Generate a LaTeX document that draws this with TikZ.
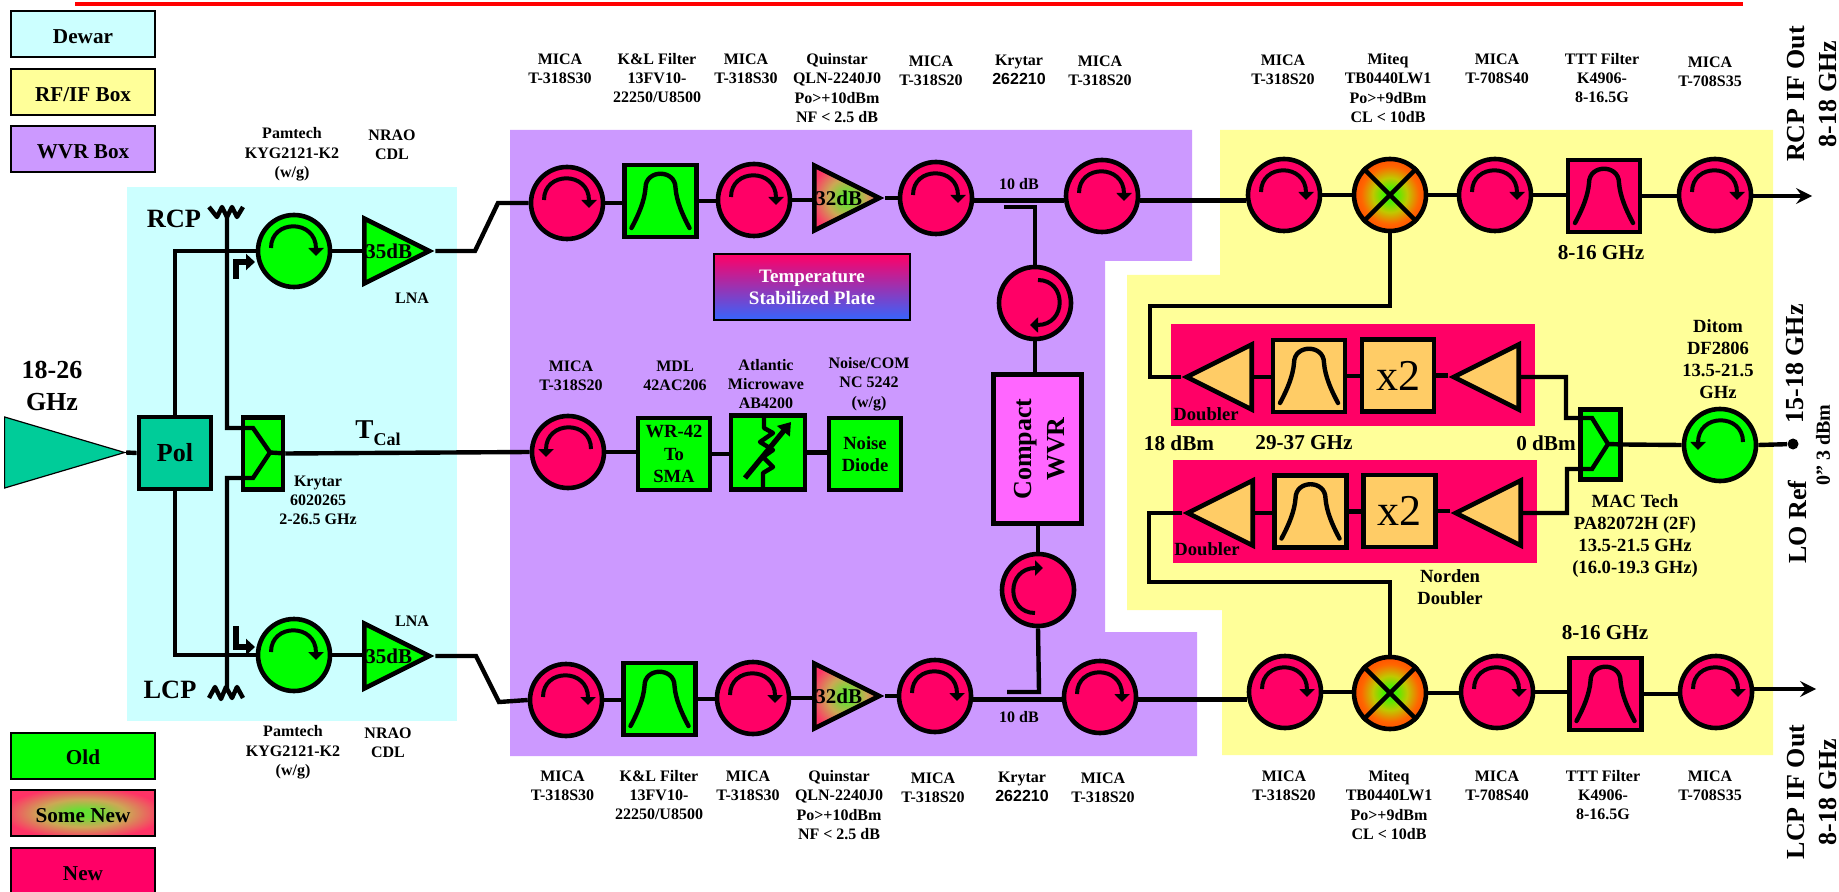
\documentclass[tikz,border=0pt]{standalone}
\usepackage{fontspec}
\setmainfont{Liberation Serif}
\newfontfamily\labsans{Liberation Sans}
\usetikzlibrary{arrows.meta,calc,shapes.geometric}
\definecolor{csnew}{HTML}{FF0066}
\definecolor{csold}{HTML}{00FF00}
\definecolor{csdewar}{HTML}{CCFFFF}
\definecolor{csrfif}{HTML}{FFFF99}
\definecolor{cswvr}{HTML}{CC99FF}
\definecolor{cspol}{HTML}{00CC99}
\definecolor{csdbl}{HTML}{FFCC66}
\definecolor{cscomp}{HTML}{FF66FF}
\definecolor{csplate}{HTML}{3366FF}
\definecolor{cssome}{HTML}{66E033}
\definecolor{cssmid}{HTML}{CCA855}
\definecolor{csedge}{HTML}{FF3366}
\definecolor{csmixin}{HTML}{44F000}
\definecolor{csmixmid}{HTML}{C0C800}
\definecolor{csmixorg}{HTML}{FF6600}
\definecolor{csmixout}{HTML}{FF3300}
\pgfdeclareradialshading{somesh}{\pgfpointorigin}{color(0bp)=(cssome); color(4bp)=(cssome); color(15bp)=(cssmid); color(28bp)=(csedge); color(100bp)=(csedge)}
\pgfdeclareradialshading{mixsh}{\pgfpointorigin}{color(0bp)=(csmixin); color(4bp)=(csmixin); color(12bp)=(csmixmid); color(20bp)=(csmixorg); color(32bp)=(csmixout); color(100bp)=(csmixout)}
\tikzset{
  wire/.style={line width=2.2pt, black},
  lab/.style={font=\fontsize{8}{9.65}\selectfont\bfseries, align=center, inner sep=0pt},
  labm/.style={font=\fontsize{9.3}{11}\selectfont\bfseries, align=center, inner sep=0pt},
  labl/.style={font=\fontsize{10.6}{13}\selectfont\bfseries, align=center, inner sep=0pt},
  labh/.style={font=\fontsize{13}{16.2}\selectfont\bfseries, align=center, inner sep=0pt},
  legbox/.style={draw=black, line width=1pt, minimum width=72pt, minimum height=23pt, inner sep=0pt, text height=9pt, text depth=0pt, font=\fontsize{10.6}{13}\selectfont\bfseries},
  circ/.style={circle, draw=black, line width=2.3pt, minimum size=36pt, inner sep=0pt},
  newcirc/.style={circ, fill=csnew},
  oldcirc/.style={circ, fill=csold},
  mixcirc/.style={circ, shade, shading=mixsh},
  fbox/.style={rectangle, draw=black, line width=2.4pt, minimum size=36pt, inner sep=0pt, align=center},
  amp/.style={isosceles triangle, isosceles triangle stretches, draw=black, line width=2.3pt, minimum width=32.5pt, minimum height=32.5pt, inner sep=0pt, anchor=lower side, font=\fontsize{10.5}{12}\selectfont\bfseries},
  armt/.style={line width=3pt, -{Triangle[width=8pt,length=4.5pt]}},
  outarr/.style={wire, -{Stealth[width=8pt,length=8pt,inset=3pt]}},
  pics/cwarr/.style={code={
    \draw[line width=2pt, -{Triangle[width=7.5pt,length=4pt]}] (-23,-3) .. controls (-23,-32) and (22,-32) .. (22,5);
  }},
  pics/bpass/.style={code={
    \draw[line width=2.2pt, line cap=round] (-29,27) .. controls (-22,14) and (-16,0) .. (-15,-13) .. controls (-15,-32) and (15,-32) .. (15,-13) .. controls (16,0) and (22,14) .. (29,27);
  }},
}
\begin{document}
\begin{tikzpicture}[x=0.5pt, y=-0.5pt]
  \useasboundingbox (0,0) rectangle (1839,892);
  \draw[red, line width=1.6pt] (75,4) -- (1743,4);
  \fill[csdewar] (127,187) rectangle (457,721);
  \fill[cswvr] (510,130) -- (1192,130) -- (1192,261) -- (1105,261) -- (1105,632) -- (1197,632) -- (1197,756) -- (510,756) -- cycle;
  \fill[csrfif] (1220,130) -- (1773,130) -- (1773,755) -- (1222,755) -- (1222,610) -- (1127,610) -- (1127,275) -- (1220,275) -- cycle;
  \fill[csnew] (1171,324) rectangle (1535,426);
  \fill[csnew] (1173,460) rectangle (1537,563);

  \node[legbox, fill=csdewar] (lgd) at (83,34.5) {Dewar};
  \node[legbox, fill=csrfif] (lgr) at (83,92.5) {RF/IF Box};
  \node[legbox, fill=cswvr] (lgw) at (83,149.5) {WVR Box};
  \node[legbox, fill=csold] (lgo) at (83,755.5) {Old};
  \node[legbox, shade, shading=somesh] (lgs) at (83,813) {Some New};
  \node[legbox, fill=csnew] (lgn) at (83,871) {New};

  \node[isosceles triangle, isosceles triangle stretches, draw=black, line width=0.6pt, fill=cspol, minimum width=35.5pt, minimum height=60pt, inner sep=0pt, anchor=lower side] (horn) at (4,452.5) {};
  \node[fbox, fill=cspol, font=\fontsize{13}{16}\selectfont\bfseries] (pol) at (175,453) {Pol};
  \node[fbox, fill=csold, minimum width=20pt, minimum height=36pt] (kry) at (263,453.5) {};
  \node[oldcirc] (cl1) at (294,251) {};
  \node[oldcirc] (cl2) at (294,655) {};
  \node[amp, fill=csold] (al1) at (362,251) {35dB};
  \node[amp, fill=csold] (al2) at (362,656) {35dB};
  \pic at (cl1) {cwarr};
  \pic at (cl2) {cwarr};

  \node[newcirc] (cr1) at (567,203) {};
  \node[fbox, fill=csold] (fr1) at (660.5,201) {};
  \node[newcirc] (cr2) at (754,200) {};
  \node[amp, shade, shading=somesh] (ar1) at (812,198) {32dB};
  \node[newcirc] (cr3) at (936,198) {};
  \node[newcirc] (cr4) at (1102,196) {};
  \node[newcirc] (cr5) at (1284,195) {};
  \node[mixcirc] (mxr) at (1390,195) {};
  \node[newcirc] (cr6) at (1495,195) {};
  \node[fbox, fill=csnew] (fr2) at (1604,196) {};
  \node[newcirc] (cr7) at (1715,195) {};
  \foreach \c in {cr1,cr2,cr3,cr4,cr5,cr6,cr7} \pic at (\c) {cwarr};
  \pic at (fr1) {bpass};
  \pic at (fr2) {bpass};
  \draw[wire] (mxr.north west) -- (mxr.south east);
  \draw[wire] (mxr.north east) -- (mxr.south west);

  \node[newcirc] (cb1) at (566,700) {};
  \node[fbox, fill=csold] (fb1) at (659.5,699) {};
  \node[newcirc] (cb2) at (753,698) {};
  \node[amp, shade, shading=somesh] (ab1) at (812,696) {32dB};
  \node[newcirc] (cb3) at (935,696) {};
  \node[newcirc] (cb4) at (1100,697) {};
  \node[newcirc] (cb5) at (1285,692) {};
  \node[mixcirc] (mxb) at (1390,693) {};
  \node[newcirc] (cb6) at (1497,692) {};
  \node[fbox, fill=csnew] (fb2) at (1605.5,694) {};
  \node[newcirc] (cb7) at (1716,692) {};
  \foreach \c in {cb1,cb2,cb3,cb4,cb5,cb6,cb7} \pic at (\c) {cwarr};
  \pic at (fb1) {bpass};
  \pic at (fb2) {bpass};
  \draw[wire] (mxb.north west) -- (mxb.south east);
  \draw[wire] (mxb.north east) -- (mxb.south west);

  \node[newcirc] (cm) at (568,452) {};
  \pic[xscale=-1] at (cm) {cwarr};
  \node[fbox, fill=csold, font=\fontsize{9.3}{11.2}\selectfont\bfseries] (wr) at (674,454) {WR-42\\To\\SMA};
  \node[fbox, fill=csold, minimum size=37pt] (atn) at (768,452.5) {};
  \node[fbox, fill=csold, font=\fontsize{9.3}{11}\selectfont\bfseries] (nd) at (865,454) {Noise\\Diode};
  \draw[wire, line join=round] (764,415) -- (764,428) -- (773,433) -- (760,442) -- (773,450) -- (763,457) -- (773,467) -- (763,473) -- (763,491);
  \draw[line width=2.6pt, -{Triangle[width=8pt,length=6pt]}] (745,478) -- (791,422);

  \node[newcirc] (cv1) at (1035,303) {};
  \pic[rotate=-90] at (cv1) {cwarr};
  \node[newcirc] (cv2) at (1038,590) {};
  \pic[rotate=90] at (cv2) {cwarr};
  \node[fbox, fill=cscomp, minimum width=44pt, minimum height=74.5pt] (wvr) at (1037.5,449) {};
  \node[labh, rotate=90, font=\fontsize{13}{16.5}\selectfont\bfseries] (wvrt) at (1040,449) {Compact\\WVR};
  \node[rectangle, draw=black, line width=1pt, top color=csnew, bottom color=csplate, minimum width=98pt, minimum height=33pt, inner sep=0pt, align=center, text=white, font=\fontsize{9.5}{11}\selectfont\bfseries] (plate) at (812,287.5) {Temperature\\Stabilized Plate};

  \node[amp, shape border rotate=180, fill=csdbl] (adu1) at (1254,377) {};
  \node[fbox, fill=csdbl] (fdu) at (1309,376) {};
  \node[fbox, fill=csdbl, font=\fontsize{22}{24}\selectfont] (xdu) at (1398,375.5) {x2};
  \node[amp, shape border rotate=180, fill=csdbl] (adu2) at (1521,377) {};
  \node[amp, shape border rotate=180, fill=csdbl] (adl1) at (1255,513) {};
  \node[fbox, fill=csdbl] (fdl) at (1310.5,511.5) {};
  \node[fbox, fill=csdbl, font=\fontsize{22}{24}\selectfont] (xdl) at (1399.5,511) {x2};
  \node[amp, shape border rotate=180, fill=csdbl] (adl2) at (1523,513) {};
  \pic at (fdu) {bpass};
  \pic at (fdl) {bpass};
  \node[fbox, fill=csold, minimum width=20pt, minimum height=35pt] (spl) at (1600.5,444.5) {};
  \node[oldcirc] (dit) at (1720,445) {};
  \pic[xscale=-1] at (dit) {cwarr};
  \node[circle, fill=black, minimum size=5.5pt, inner sep=0pt] (lodot) at (1793,444) {};

  \coordinate (anr) at (227,216);
  \coordinate (anl) at (227,688);
  \coordinate (kin1) at (253,428);
  \coordinate (kin2) at (253,478);
  \coordinate (kmid) at (270,452.5);
  \coordinate (jog1) at (475,251);
  \coordinate (jog2) at (498,203);
  \coordinate (jog3) at (476,656);
  \coordinate (jog4) at (499,702);
  \coordinate (tapr) at (1036,200.5);
  \coordinate (tapb) at (1039,699.5);
  \coordinate (stu1) at (1004,207);
  \coordinate (stu2) at (1035,207);
  \coordinate (stu3) at (1007,692);
  \coordinate (stu4) at (1039,692);
  \coordinate (dc1) at (1150,306);
  \coordinate (dc2) at (1149,582);
  \coordinate (sp1o) at (1566,418);
  \coordinate (sp1) at (1592,418);
  \coordinate (sp2o) at (1567,469);
  \coordinate (sp2) at (1592,469);
  \coordinate (spm) at (1608,444);
  \coordinate (outr) at (1812,196);
  \coordinate (outb) at (1816,689);

  \draw[wire] (horn.apex) -- (pol.west);
  \draw[wire] (pol.north) |- (cl1.west);
  \draw[wire] (pol.south) |- (cl2.west);
  \draw[wire] (anr) |- (kin1) -- (kmid) -- (kin2) -| (anl);
  \draw[wire] (kmid) -- (kry.east);
  \draw[wire] (kry.east) -- (cm.west);
  \draw[wire, line join=round] (209,207) -- (217,217) -- (222,207) -- (227,217) -- (232,207) -- (237,217) -- (243,207);
  \draw[wire, line join=round] (209,698) -- (215,687) -- (221,699) -- (226,687) -- (232,698) -- (237,687) -- (243,698);
  \draw[armt] (236,279) |- (255,262);
  \draw[armt] (236,626) |- (255,647);
  \draw[wire] (al1.apex) -- (jog1) -- (jog2) -- (cr1.west);
  \draw[wire] (al2.apex) -- (jog3) -- (jog4) -- (cb1.west);
  \foreach \a/\b in {cl1.east/al1.lower side, cl2.east/al2.lower side,
      cr1.east/fr1.west, fr1.east/cr2.west, cr2.east/ar1.lower side, ar1.apex/cr3.west,
      cr5.east/mxr.west, mxr.east/cr6.west, cr6.east/fr2.west, fr2.east/cr7.west,
      cb1.east/fb1.west, fb1.east/cb2.west, cb2.east/ab1.lower side, ab1.apex/cb3.west,
      cb5.east/mxb.west, mxb.east/cb6.west, cb6.east/fb2.west, fb2.east/cb7.west,
      cm.east/wr.west, wr.east/atn.west, atn.east/nd.west,
      adu1.lower side/fdu.west, fdu.east/xdu.west, xdu.east/adu2.apex,
      adl1.lower side/fdl.west, fdl.east/xdl.west, xdl.east/adl2.apex}
    \draw[wire] (\a) -- (\a -| \b);
  \draw[wire] (cr3.east |- tapr) -- (cr4.west |- tapr);
  \draw[wire] (cr4.east |- tapr) -- (cr5.west |- tapr);
  \draw[wire] (cb3.east |- tapb) -- (cb4.west |- tapb);
  \draw[wire] (cb4.east |- tapb) -- (cb5.west |- tapb);
  \draw[wire] (stu1) -- (stu2) -- (cv1.north);
  \draw[wire] (stu3) -- (stu4) -- (cv2.south);
  \draw[wire] (cv1.south) -- (cv1.south |- wvr.north);
  \draw[wire] (cv2.north |- wvr.south) -- (cv2.north);
  \draw[wire] (mxr.south) |- (dc1) |- (adu1.apex);
  \draw[wire] (mxb.north) |- (dc2) |- (adl1.apex);
  \draw[wire] (adu2.lower side) -| (sp1o) -- (sp1) -- (spm) -- (sp2) -- (sp2o) |- (adl2.lower side);
  \draw[wire] (spm) -- (spl.east);
  \draw[wire] (spl.east) -- (dit.west);
  \draw[wire] (dit.east) -- (lodot);
  \draw[outarr] (cr7.east |- outr) -- (outr);
  \draw[outarr] (cb7.east |- outb) -- (outb);

  \node[labh] (in) at (52,386) {18-26\\GHz};
  \node[font=\fontsize{13.2}{16}\selectfont\bfseries, inner sep=0pt] (rcp) at (174,219) {RCP};
  \node[font=\fontsize{13.2}{16}\selectfont\bfseries, inner sep=0pt] (lcp) at (170,690) {LCP};
  \node[font=\fontsize{13.6}{16}\selectfont\bfseries, inner sep=0pt] (tcal) at (378,433) {T\raisebox{-3.5pt}{\fontsize{9}{9}\selectfont Cal}};
  \node[lab] (t1) at (292,154.5) {Pamtech\\KYG2121-K2\\(w/g)};
  \node[lab] (t2) at (392,145) {NRAO\\CDL};
  \node[lab] (t3) at (412,298) {LNA};
  \node[lab] (t4) at (318,500.5) {Krytar\\6020265\\2-26.5 GHz};
  \node[lab] (t5) at (412,621) {LNA};
  \node[lab] (t6) at (293,752.5) {Pamtech\\KYG2121-K2\\(w/g)};
  \node[lab] (t7) at (388,743) {NRAO\\CDL};

  \node[lab] (u1) at (560,68.5) {MICA\\T-318S30};
  \node[lab] (u2) at (657,78) {K\&L Filter\\13FV10-\\22250/U8500};
  \node[lab] (u3) at (746,68.5) {MICA\\T-318S30};
  \node[lab] (u4) at (837,88) {Quinstar\\QLN-2240J0\\Po>+10dBm\\NF < 2.5 dB};
  \node[lab] (u5) at (931,71) {MICA\\T-318S20};
  \node[lab] (u6) at (1019,70) {Krytar\\{\labsans 262210}};
  \node[lab] (u7) at (1100,71) {MICA\\T-318S20};
  \node[lab] (u8) at (1283,69.5) {MICA\\T-318S20};
  \node[lab] (u9) at (1388,88) {Miteq\\TB0440LW1\\Po>+9dBm\\CL < 10dB};
  \node[lab] (u10) at (1497,68.5) {MICA\\T-708S40};
  \node[lab] (u11) at (1602,78) {TTT Filter\\K4906-\\8-16.5G};
  \node[lab] (u12) at (1710,71.5) {MICA\\T-708S35};
  \node[lab] (u13) at (1019,184) {10 dB};
  \node[labl] (u14) at (1601,253) {8-16 GHz};

  \node[lab] (v1) at (562.5,785.5) {MICA\\T-318S30};
  \node[lab] (v2) at (659,795) {K\&L Filter\\13FV10-\\22250/U8500};
  \node[lab] (v3) at (748,785.5) {MICA\\T-318S30};
  \node[lab] (v4) at (839,805) {Quinstar\\QLN-2240J0\\Po>+10dBm\\NF < 2.5 dB};
  \node[lab] (v5) at (933,787.5) {MICA\\T-318S20};
  \node[lab] (v6) at (1022,786.5) {Krytar\\{\labsans 262210}};
  \node[lab] (v7) at (1103,787.5) {MICA\\T-318S20};
  \node[lab] (v8) at (1284,785.5) {MICA\\T-318S20};
  \node[lab] (v9) at (1389,805) {Miteq\\TB0440LW1\\Po>+9dBm\\CL < 10dB};
  \node[lab] (v10) at (1497,785.5) {MICA\\T-708S40};
  \node[lab] (v11) at (1603,795) {TTT Filter\\K4906-\\8-16.5G};
  \node[lab] (v12) at (1710,785.5) {MICA\\T-708S35};
  \node[lab] (v13) at (1019,717) {10 dB};
  \node[labl] (v14) at (1605,633) {8-16 GHz};

  \node[lab] (w1) at (571,375.5) {MICA\\T-318S20};
  \node[lab] (w2) at (675,375.5) {MDL\\42AC206};
  \node[lab] (w3) at (766,384) {Atlantic\\Microwave\\AB4200};
  \node[lab] (w4) at (869,384) {Noise/COM\\NC 5242\\(w/g)};

  \node[labm] (d1) at (1206,414) {Doubler};
  \node[labm] (d2) at (1207,549) {Doubler};
  \node[labl] (d3) at (1179,443) {18 dBm};
  \node[labl] (d4) at (1304,443) {29-37 GHz};
  \node[labl] (d5) at (1546,443) {0 dBm};
  \node[labm] (d6) at (1450,587) {Norden\\Doubler};
  \node[labm] (d7) at (1635,536.5) {MAC Tech\\PA82072H (2F)\\13.5-21.5 GHz\\(16.0-19.3 GHz)};
  \node[labm] (d8) at (1718,359.5) {Ditom\\DF2806\\13.5-21.5\\GHz};

  \node[labh, rotate=90] (o1) at (1812,94) {RCP IF Out\\8-18 GHz};
  \node[labh, rotate=90] (o2) at (1812,792) {LCP IF Out\\8-18 GHz};
  \node[labh, rotate=90] (o3) at (1795,364) {15-18 GHz};
  \node[labh, rotate=90] (o4) at (1797,522) {LO Ref};
  \node[labl, rotate=90, font=\fontsize{10}{12}\selectfont\bfseries] (o5) at (1823,445) {0" 3 dBm};
\end{tikzpicture}
\end{document}
